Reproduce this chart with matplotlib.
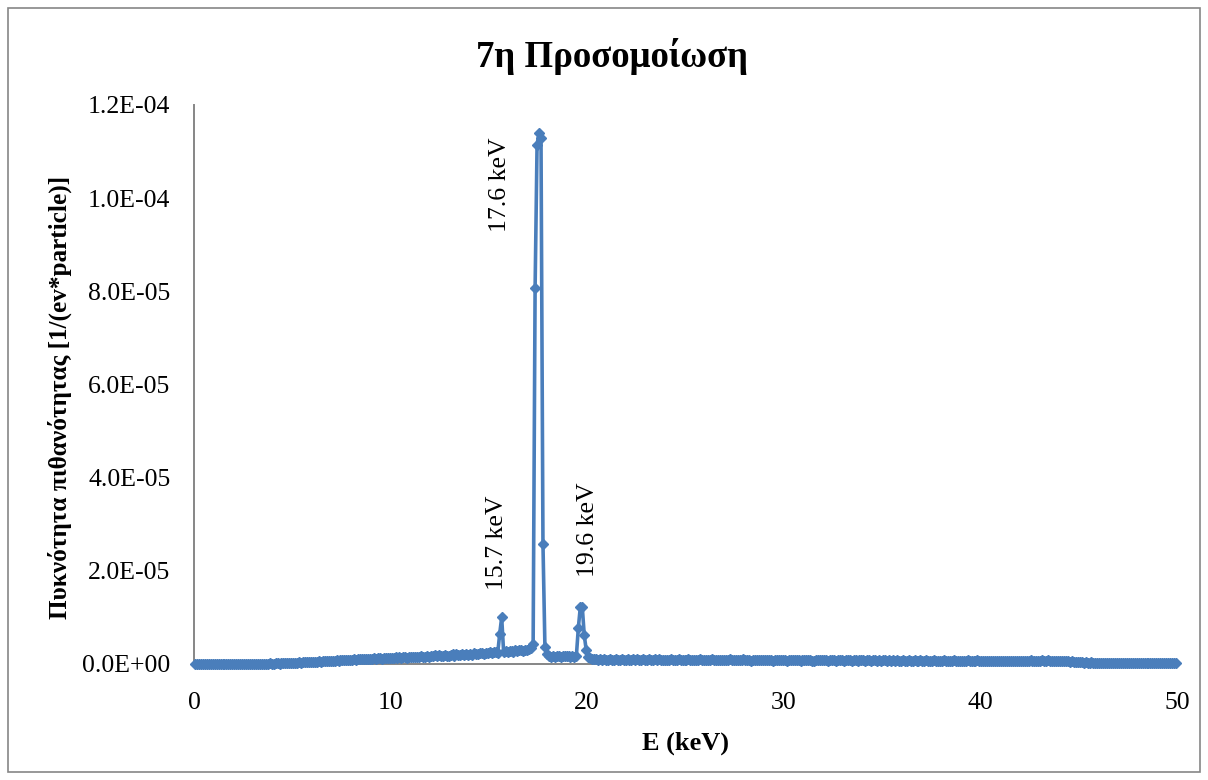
import numpy as np
import matplotlib
matplotlib.use("Agg")
import matplotlib.pyplot as plt
from matplotlib.patches import Rectangle
from matplotlib.ticker import FuncFormatter

# Simulated spectrum: 0.1 keV bins, bin centres from 0.05 to 49.95 keV
BIN_WIDTH = 0.1
# Probability density per bin, in units of 1e-7 1/(eV*particle); one row per keV
density_1e7 = [
    1, 1, 0, 1, 1, 0, 1, 1, 1, 0,            # 0-1 keV
    1, 0, 1, 1, 1, 0, 1, 1, 0, 1,            # 1-2
    1, 1, 0, 1, 1, 1, 1, 0, 1, 1,            # 2-3
    1, 1, 1, 1, 0, 1, 1, 1, 2, 1,            # 3-4
    1, 2, 2, 1, 2, 2, 2, 3, 2, 3,            # 4-5
    3, 3, 3, 4, 3, 4, 4, 4, 5, 4,            # 5-6
    5, 5, 5, 6, 5, 6, 6, 6, 7, 6,            # 6-7
    7, 7, 8, 7, 8, 8, 9, 8, 8, 9,            # 7-8
    9, 10, 9, 10, 10, 11, 10, 10, 11, 11,    # 8-9
    11, 12, 11, 12, 12, 11, 13, 12, 13, 12,  # 9-10
    13, 13, 14, 12, 14, 13, 15, 14, 13, 15,  # 10-11
    15, 16, 14, 16, 15, 17, 16, 15, 17, 16,  # 11-12
    17, 18, 19, 17, 19, 17, 18, 20, 17, 18,  # 12-13
    19, 21, 18, 21, 20, 19, 22, 20, 22, 20,  # 13-14
    22, 20, 23, 22, 21, 24, 23, 22, 24, 23,  # 14-15
    25, 23, 25, 26, 24, 65, 100, 25, 27, 26,  # 15-16 (15.7 keV line)
    27, 28, 26, 29, 28, 29, 30, 28, 30, 31,  # 16-17
    32, 34, 42, 807, 1115, 1140, 1130, 258, 36, 22,  # 17-18 (17.6 keV line)
    18, 16, 18, 15, 17, 18, 16, 17, 17, 18,  # 18-19
    17, 15, 18, 16, 18, 78, 122, 122, 62, 30,  # 19-20 (19.6 keV line)
    15, 12, 11, 10, 10, 9, 10, 9, 10, 9,     # 20-21
    9, 10, 8, 9, 10, 9, 9, 11, 9, 9,         # 21-22
    10, 9, 8, 10, 9, 10, 9, 8, 10, 9,        # 22-23
    9, 10, 9, 8, 10, 9, 11, 9, 9, 8,         # 23-24
    9, 9, 10, 8, 9, 9, 10, 9, 8, 8,          # 24-25
    9, 10, 8, 9, 9, 8, 9, 10, 8, 9,          # 25-26
    9, 8, 9, 10, 8, 9, 8, 9, 9, 8,           # 26-27
    8, 9, 10, 8, 9, 8, 8, 9, 8, 10,          # 27-28
    8, 9, 8, 7, 9, 8, 9, 8, 8, 9,            # 28-29
    8, 8, 9, 8, 7, 9, 8, 8, 8, 9,            # 29-30
    8, 7, 9, 8, 8, 8, 9, 8, 7, 8,            # 30-31
    8, 9, 8, 8, 7, 7, 8, 8, 9, 8,            # 31-32
    8, 8, 7, 8, 9, 8, 7, 8, 8, 8,            # 32-33
    7, 8, 8, 9, 7, 8, 8, 7, 8, 8,            # 33-34
    8, 7, 8, 8, 7, 9, 8, 7, 8, 7,            # 34-35
    8, 8, 7, 8, 7, 8, 7, 8, 7, 7,            # 35-36
    8, 7, 7, 8, 7, 6, 8, 7, 7, 8,            # 36-37
    7, 7, 8, 7, 7, 7, 8, 7, 6, 7,            # 37-38
    7, 8, 7, 7, 7, 7, 8, 7, 7, 7,            # 38-39
    7, 7, 6, 8, 7, 7, 7, 6, 8, 7,            # 39-40
    7, 7, 7, 7, 6, 7, 7, 7, 7, 6,            # 40-41
    7, 7, 6, 7, 7, 7, 6, 7, 7, 7,            # 41-42
    7, 7, 7, 6, 7, 8, 7, 7, 7, 7,            # 42-43
    7, 8, 7, 7, 8, 7, 7, 7, 7, 6,            # 43-44
    7, 6, 7, 6, 6, 5, 6, 5, 5, 4,            # 44-45
    4, 4, 3, 4, 3, 3, 4, 3, 3, 3,            # 45-46
    3, 2, 3, 2, 2, 3, 2, 2, 3, 2,            # 46-47
    2, 3, 2, 2, 2, 3, 2, 2, 2, 3,            # 47-48
    2, 2, 3, 2, 2, 2, 2, 3, 2, 2,            # 48-49
    2, 2, 2, 3, 2, 2, 2, 2, 2, 2,            # 49-50
]

peak_labels = ["15.7 keV", "17.6 keV", "19.6 keV"]
peak_label_x = [15.42, 15.58, 20.04]
peak_label_y = [2.6e-5, 1.028e-4, 2.88e-5]

x_ticks = [0, 10, 20, 30, 40, 50]
y_ticks = [0, 2e-5, 4e-5, 6e-5, 8e-5, 1.0e-4, 1.2e-4]

title_text = "7η Προσομοίωση"
x_label = "E (keV)"
y_label = "Πυκνότητα πιθανότητας [1/(ev*particle)]"

density = np.array(density_1e7, dtype=float) * 1e-7
energy = (np.arange(len(density)) + 0.5) * BIN_WIDTH

SERIES = "#4A7EBB"
GREY = "#868686"
FONT = "Liberation Serif"

W, H = 1208, 780
fig = plt.figure(figsize=(W / 100, H / 100), dpi=100)
ax = fig.add_axes([194 / W, 1 - 664 / H, (1177 - 194) / W, (664 - 105) / H])

ax.plot(energy, density, color=SERIES, lw=2.6, marker="D", ms=5.6,
        mec=SERIES, mfc=SERIES, clip_on=False, zorder=3)

ax.set_xlim(0, 50)
ax.set_ylim(0, 1.2e-4)
ax.set_xticks(x_ticks)
ax.set_yticks(y_ticks)
ax.yaxis.set_major_formatter(FuncFormatter(lambda v, p: "{:.1E}".format(v)))
ax.tick_params(axis="both", length=0, labelsize=18.5, colors="black")
ax.tick_params(axis="y", pad=17)
ax.tick_params(axis="x", pad=20)
for lab in ax.get_xticklabels() + ax.get_yticklabels():
    lab.set_fontfamily(FONT)

for side in ("top", "right"):
    ax.spines[side].set_visible(False)
for side in ("left", "bottom"):
    ax.spines[side].set_color(GREY)
    ax.spines[side].set_linewidth(1.4)

for txt, lx, ly in zip(peak_labels, peak_label_x, peak_label_y):
    ax.text(lx, ly, txt, rotation=90, ha="center", va="center",
            fontsize=18.5, family=FONT, color="black")

fig.text(612 / W, 1 - 67 / H, title_text, ha="center", va="baseline",
         fontsize=26.5, fontweight="bold", family=FONT)
fig.text(685 / W, 1 - 750 / H, x_label, ha="center", va="baseline",
         fontsize=19, fontweight="bold", family=FONT)
fig.text(60 / W, 1 - 397 / H, y_label, ha="center", va="center", rotation=90,
         fontsize=18.2, fontweight="bold", family=FONT)

# Chart frame
fig.patches.append(Rectangle((8 / W, 8 / H), 1 - 16 / W, 1 - 16 / H,
                             transform=fig.transFigure, fill=False,
                             edgecolor=GREY, lw=1.2))

fig.savefig("out.png", dpi=100, facecolor="white")
